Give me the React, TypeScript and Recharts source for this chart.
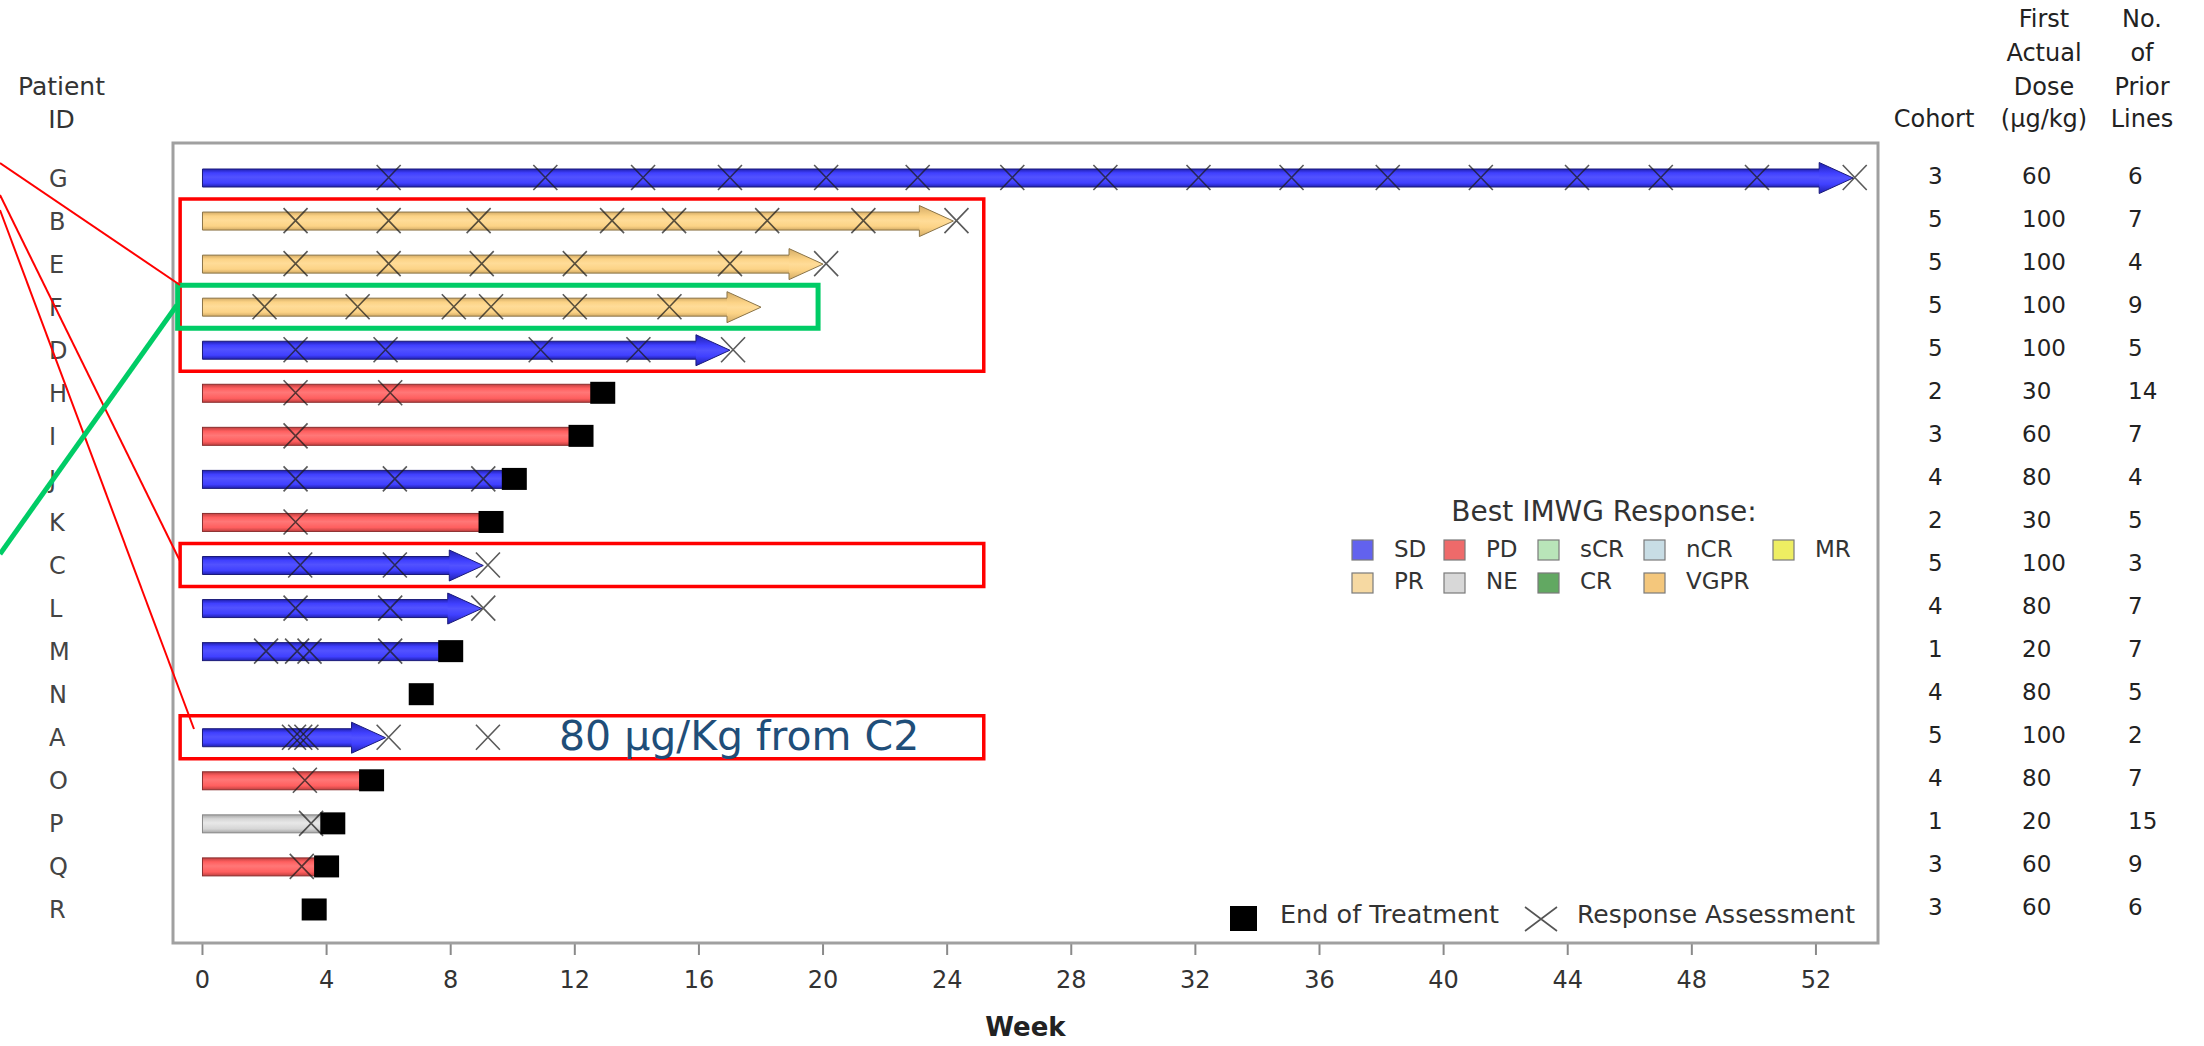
import React from "react";
import { ComposedChart, Bar, XAxis, YAxis, ReferenceDot, ReferenceArea } from "recharts";

const W = 2204;
const H = 1046;
const FONT = "'DejaVu Sans', Verdana, sans-serif";

// ---- data ----
const PATIENTS = ["G", "B", "E", "F", "D", "H", "I", "J", "K", "C", "L", "M", "N", "A", "O", "P", "Q", "R"];
const RESPONSE = ["SD", "PR", "PR", "PR", "SD", "PD", "PD", "SD", "PD", "SD", "SD", "SD", null, "SD", "PD", "NE", "PD", null];
// week at which the bar (or arrow tip) ends
const BAR_END = [53.2, 24.2, 20.0, 18.0, 17.0, 12.9, 12.2, 10.05, 9.3, 9.05, 9.0, 8.0, 0, 5.9, 5.45, 4.2, 4.0, 0];
const ONGOING = [true, true, true, true, true, false, false, false, false, true, true, false, false, true, false, false, false, false];
const EOT_WEEK = [null, null, null, null, null, 12.9, 12.2, 10.05, 9.3, null, null, 8.0, 7.05, null, 5.45, 4.2, 4.0, 3.6];
const ASSESSMENTS = [
  [6, 11.05, 14.2, 17, 20.1, 23.05, 26.1, 29.1, 32.1, 35.1, 38.2, 41.2, 44.3, 47, 50.1, 53.25],
  [3, 6, 8.9, 13.2, 15.2, 18.2, 21.3, 24.3],
  [3, 6, 9, 12, 17, 20.1],
  [2, 5, 8.1, 9.3, 12, 15.05],
  [3, 5.9, 10.9, 14.05, 17.1],
  [3, 6.05],
  [3],
  [3, 6.2, 9.05],
  [3],
  [3.15, 6.2, 9.2],
  [3, 6.05, 9.05],
  [2.05, 3.05, 3.45, 6.05],
  [],
  [2.95, 3.15, 3.35, 6.0, 9.2],
  [3.3],
  [3.5],
  [3.2],
  [],
];
const COHORT = [3, 5, 5, 5, 5, 2, 3, 4, 2, 5, 4, 1, 4, 5, 4, 1, 3, 3];
const DOSE = [60, 100, 100, 100, 100, 30, 60, 80, 30, 100, 80, 20, 80, 100, 80, 20, 60, 60];
const PRIOR_LINES = [6, 7, 4, 9, 5, 14, 7, 4, 5, 3, 7, 7, 5, 2, 7, 15, 9, 6];
const WEEK_TICKS = [0, 4, 8, 12, 16, 20, 24, 28, 32, 36, 40, 44, 48, 52];

const LEGEND_ROW1 = ["SD", "PD", "sCR", "nCR", "MR"];
const LEGEND_ROW2 = ["PR", "NE", "CR", "VGPR"];

// highlight boxes drawn on the data grid
const BOXES = [
  { x1: -0.72, x2: 25.18, y1: "B", y2: "D", color: "#FF0000", w: 3.5 },
  { x1: -0.72, x2: 25.18, y1: "C", y2: "C", color: "#FF0000", w: 3.5 },
  { x1: -0.72, x2: 25.18, y1: "A", y2: "A", color: "#FF0000", w: 3.5 },
  { x1: -0.8, x2: 19.84, y1: "F", y2: "F", color: "#00CC66", w: 5 },
];

const BAR_STYLE: Record<string, { base: string; light: string; dark: string; stroke: string }> = {
  SD: { base: "#4040FF", light: "#5252FF", dark: "#2020B0", stroke: "#1B1B7A" },
  PR: { base: "#FCD386", light: "#FFDC98", dark: "#D4AC66", stroke: "#8A7448" },
  PD: { base: "#FF5F5F", light: "#FF7777", dark: "#C04040", stroke: "#8A2E2E" },
  NE: { base: "#D6D6D6", light: "#E8E8E8", dark: "#A6A6A6", stroke: "#888888" },
};

const SWATCH: Record<string, string> = {
  SD: "#6262EE",
  PD: "#EE6A6A",
  sCR: "#B9E5B9",
  nCR: "#C8DDE5",
  MR: "#EEEE62",
  PR: "#F6D9A2",
  NE: "#D8D8D8",
  CR: "#62A862",
  VGPR: "#F4C77C",
};

const rows = PATIENTS.map((id, i) => ({
  id,
  response: RESPONSE[i],
  end: BAR_END[i],
  ongoing: ONGOING[i],
  cohort: COHORT[i],
  dose: DOSE[i],
  prior: PRIOR_LINES[i],
}));

const BAR_H = 18;
const HEAD_L = 34;
const HEAD_H = 31;

function SwimBar(props: any) {
  const { x, y, width, height } = props;
  const p = props.payload ?? props;
  if (!p.response || !(width > 0)) return null;
  const st = BAR_STYLE[p.response];
  const cy = y + height / 2;
  const top = cy - BAR_H / 2;
  const bot = cy + BAR_H / 2;
  const end = x + width;
  if (!p.ongoing) {
    return (
      <rect x={x} y={top} width={width} height={BAR_H} fill={`url(#body-${p.response})`} stroke={st.stroke} strokeWidth={1} />
    );
  }
  const neck = end - HEAD_L;
  const outline = `M${x},${top}L${neck},${top}L${neck},${cy - HEAD_H / 2}L${end},${cy}L${neck},${cy + HEAD_H / 2}L${neck},${bot}L${x},${bot}Z`;
  return (
    <g>
      <rect x={x} y={top} width={neck - x + 1} height={BAR_H} fill={`url(#body-${p.response})`} />
      <path d={`M${neck},${cy - HEAD_H / 2}L${end},${cy}L${neck},${cy + HEAD_H / 2}Z`} fill={`url(#head-${p.response})`} />
      <path d={outline} fill="none" stroke={st.stroke} strokeWidth={1} />
    </g>
  );
}

function XMark(props: any) {
  const { cx, cy } = props;
  return (
    <path
      d={`M${cx - 12},${cy - 12.5}L${cx + 12},${cy + 12.5}M${cx + 12},${cy - 12.5}L${cx - 12},${cy + 12.5}`}
      stroke="#1a1a1a"
      strokeOpacity={0.72}
      strokeWidth={1.6}
      fill="none"
    />
  );
}

function EotSquare(props: any) {
  const { cx, cy } = props;
  return <rect x={cx - 12.5} y={cy - 11} width={25} height={22} fill="#000" />;
}

function IdTick(props: any) {
  const { x, y, payload } = props;
  return (
    <text x={x} y={y + 9} textAnchor="start" fontFamily={FONT} fontSize={24} fill="#444">
      {payload.value}
    </text>
  );
}

function TableTick(props: any) {
  const { x, y, payload } = props;
  const r = rows.find((d) => d.id === payload.value);
  if (!r) return null;
  const t = { fontFamily: FONT, fontSize: 23, fill: "#222" };
  return (
    <g>
      <text x={x + 50} y={y + 6} {...t}>{r.cohort}</text>
      <text x={x + 144} y={y + 6} {...t}>{r.dose}</text>
      <text x={x + 250} y={y + 6} {...t}>{r.prior}</text>
    </g>
  );
}

function Overlay() {
  const hdr = { fontFamily: FONT, fontSize: 24, fill: "#222", textAnchor: "middle" as const };
  const leg = { fontFamily: FONT, fontSize: 23, fill: "#333" };
  const cols = [1352, 1444, 1538, 1644, 1773];
  return (
    <svg width={W} height={H} style={{ position: "absolute", left: 0, top: 0, pointerEvents: "none" }}>
      {/* frame */}
      <rect x={173} y={143} width={1705} height={800} fill="none" stroke="#a0a0a0" strokeWidth={3} />

      {/* column headers */}
      <text x={61.5} y={95} {...hdr} fontSize={25} fill="#333">Patient</text>
      <text x={61.5} y={128} {...hdr} fontSize={25} fill="#333">ID</text>
      <text x={1934} y={127} {...hdr}>Cohort</text>
      <text x={2044} y={27} {...hdr}>First</text>
      <text x={2044} y={61} {...hdr}>Actual</text>
      <text x={2044} y={94.5} {...hdr}>Dose</text>
      <text x={2044} y={127} {...hdr}>(µg/kg)</text>
      <text x={2142} y={27} {...hdr}>No.</text>
      <text x={2142} y={61} {...hdr}>of</text>
      <text x={2142} y={94.5} {...hdr}>Prior</text>
      <text x={2142} y={127} {...hdr}>Lines</text>

      {/* callout lines */}
      <line x1={0} y1={163} x2={180} y2={285} stroke="#FF0000" strokeWidth={2} />
      <line x1={0} y1={195} x2={180} y2={561} stroke="#FF0000" strokeWidth={2} />
      <line x1={0} y1={210} x2={194} y2={729} stroke="#FF0000" strokeWidth={2} />
      <line x1={0} y1={554} x2={177} y2={305} stroke="#00CC66" strokeWidth={5} />

      <text x={559} y={750} fontFamily={FONT} fontSize={41} fill="#1F4E79">80 µg/Kg from C2</text>

      {/* response legend */}
      <text x={1604} y={521} fontFamily={FONT} fontSize={28} fill="#333" textAnchor="middle">Best IMWG Response:</text>
      {LEGEND_ROW1.map((k, i) => (
        <g key={k}>
          <rect x={cols[i]} y={540} width={21} height={20} fill={SWATCH[k]} stroke="#7a7a7a" strokeWidth={1.2} />
          <text x={cols[i] + 42} y={557} {...leg}>{k}</text>
        </g>
      ))}
      {LEGEND_ROW2.map((k, i) => (
        <g key={k}>
          <rect x={cols[i]} y={573} width={21} height={20} fill={SWATCH[k]} stroke="#7a7a7a" strokeWidth={1.2} />
          <text x={cols[i] + 42} y={589} {...leg}>{k}</text>
        </g>
      ))}

      {/* marker legend */}
      <rect x={1230} y={906} width={27} height={25} fill="#000" />
      <text x={1280} y={923} fontFamily={FONT} fontSize={25.5} fill="#333">End of Treatment</text>
      <path d="M1525,907L1557,931M1557,907L1525,931" stroke="#555" strokeWidth={1.6} fill="none" />
      <text x={1577} y={923} fontFamily={FONT} fontSize={25} fill="#333">Response Assessment</text>
    </svg>
  );
}

export default function App() {
  return (
    <div style={{ position: "relative", width: W, height: H, background: "#fff" }}>
      <style>{"body{margin:0}"}</style>
      <ComposedChart width={W} height={H} data={rows} layout="vertical" margin={{ top: 143, right: 0, bottom: 0, left: 0 }}>
        <defs>
          {Object.entries(BAR_STYLE).map(([k, s]) => (
            <React.Fragment key={k}>
              <linearGradient id={`body-${k}`} x1="0" y1="0" x2="0" y2="1">
                <stop offset="0" stopColor={s.dark} />
                <stop offset="0.22" stopColor={s.base} />
                <stop offset="0.45" stopColor={s.light} />
                <stop offset="0.78" stopColor={s.base} />
                <stop offset="1" stopColor={s.dark} />
              </linearGradient>
              <linearGradient id={`head-${k}`} x1="0" y1="0" x2="0" y2="1">
                <stop offset="0" stopColor={s.dark} />
                <stop offset="0.35" stopColor={s.base} />
                <stop offset="0.5" stopColor={s.light} />
                <stop offset="0.7" stopColor={s.base} />
                <stop offset="1" stopColor={s.dark} />
              </linearGradient>
            </React.Fragment>
          ))}
        </defs>
        <XAxis
          type="number"
          domain={[-0.95, 54]}
          allowDataOverflow
          ticks={WEEK_TICKS}
          interval={0}
          height={103}
          axisLine={false}
          tickLine={{ stroke: "#8a8a8a", strokeWidth: 2 }}
          tickSize={12}
          tickMargin={16}
          tick={{ fill: "#333", fontSize: 24, fontFamily: FONT }}
          label={{ value: "Week", position: "insideBottom", offset: 10, fill: "#222", fontSize: 26, fontWeight: 700, fontFamily: FONT }}
        />
        <YAxis
          yAxisId="left"
          type="category"
          dataKey="id"
          width={173}
          padding={{ top: 13, bottom: 12 }}
          axisLine={false}
          tickLine={false}
          tickSize={0}
          tickMargin={124}
          interval={0}
          tick={(p: any) => <IdTick {...p} />}
        />
        <YAxis
          yAxisId="right"
          orientation="right"
          type="category"
          dataKey="id"
          width={326}
          padding={{ top: 13, bottom: 12 }}
          axisLine={false}
          tickLine={false}
          tickSize={0}
          tickMargin={0}
          interval={0}
          tick={(p: any) => <TableTick {...p} />}
        />
        <Bar yAxisId="left" dataKey="end" barSize={BAR_H} shape={(p: any) => <SwimBar {...p} />} isAnimationActive={false} />
        {BOXES.map((b, i) => (
          <ReferenceArea
            key={`box-${i}`}
            yAxisId="left"
            x1={b.x1}
            x2={b.x2}
            y1={b.y1}
            y2={b.y2}
            fill="none"
            fillOpacity={0}
            stroke={b.color}
            strokeWidth={b.w}
            ifOverflow="visible"
          />
        ))}
        {ASSESSMENTS.flatMap((weeks, i) =>
          weeks.map((w, k) => (
            <ReferenceDot key={`x-${i}-${k}`} yAxisId="left" x={w} y={PATIENTS[i]} r={12} ifOverflow="visible" shape={(p: any) => <XMark {...p} />} />
          ))
        )}
        {EOT_WEEK.map((w, i) =>
          w == null ? null : (
            <ReferenceDot key={`eot-${i}`} yAxisId="left" x={w} y={PATIENTS[i]} r={12} ifOverflow="visible" shape={(p: any) => <EotSquare {...p} />} />
          )
        )}
      </ComposedChart>
      <Overlay />
    </div>
  );
}
